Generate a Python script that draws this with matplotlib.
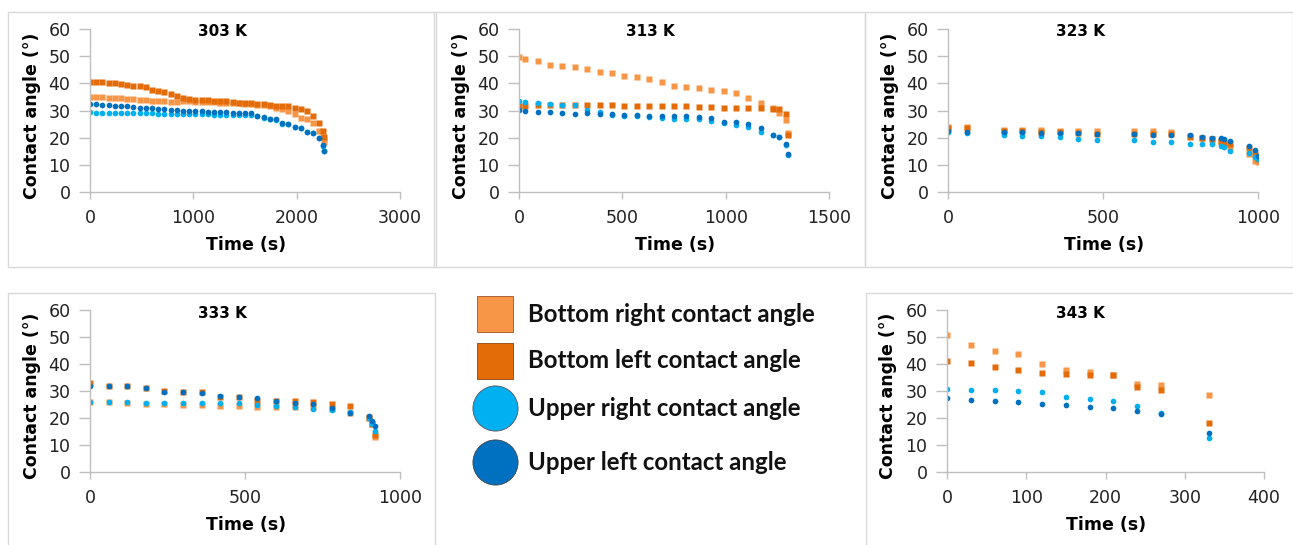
import matplotlib
matplotlib.use("Agg")
import matplotlib.pyplot as plt
from matplotlib.patches import Rectangle

plt.rcParams['font.family'] = ['DejaVu Sans']

# colours (Excel style)
c_br = '#F79646'
c_bl = '#E36C09'
c_ur = '#00B0F0'
c_ul = '#0070C0'

# ---- 303 K ----
t303 = list(range(0, 2161, 60)) + [2220, 2250, 2265]
br303 = [35.1, 34.9, 34.8, 34.7, 34.6, 34.5, 34.4, 34.2, 34.0, 33.8,
         33.6, 33.5, 33.4, 33.3, 33.3, 33.4, 33.4, 33.3, 33.2, 33.1,
         33.0, 32.9, 32.8, 32.7, 32.6, 32.5, 32.3, 32.1, 31.9, 31.5,
         31.0, 30.4, 30.0, 28.6, 27.4, 26.7, 25.3, 22.5, 20.2, 18.5]
bl303 = [40.5, 40.5, 40.4, 40.3, 40.2, 39.9, 39.5, 39.1, 38.9, 38.5,
         37.6, 37.1, 36.7, 36.0, 35.3, 34.5, 34.3, 34.0, 33.9, 33.7,
         33.6, 33.5, 33.4, 33.3, 32.9, 32.8, 32.6, 32.4, 32.3, 32.0,
         31.8, 31.6, 31.5, 30.9, 30.6, 30.0, 28.1, 25.4, 22.6, 20.2]
ur303 = [29.3, 29.2, 29.2, 29.1, 29.1, 29.0, 29.0, 29.0, 28.9, 28.9,
         28.9, 28.8, 28.8, 28.8, 28.7, 28.7, 28.7, 28.6, 28.6, 28.6,
         28.5, 28.5, 28.4, 28.4, 28.3, 28.3, 28.2, 28.0, 27.4, 26.9,
         26.6, 25.2, 25.0, 23.8, 23.4, 22.1, 21.7, 19.8, 17.1, 15.1]
ul303 = [32.5, 32.3, 32.1, 31.9, 31.7, 31.6, 31.5, 31.3, 31.1, 30.9,
         30.8, 30.5, 30.4, 30.2, 30.1, 30.0, 29.9, 29.8, 29.7, 29.6,
         29.6, 29.4, 29.3, 29.2, 29.1, 29.0, 29.0, 28.0, 27.5, 27.0,
         26.8, 25.3, 25.1, 23.9, 23.5, 22.2, 21.8, 19.9, 17.2, 15.2]

# ---- 313 K ----
t313 = [0, 30, 90, 150, 210, 270, 330, 390, 450, 510, 570, 630, 690,
        750, 810, 870, 930, 990, 1050, 1110, 1170, 1230, 1260, 1290, 1300]
br313 = [49.8, 48.8, 48.2, 46.7, 46.5, 45.9, 45.3, 44.3, 43.8, 42.8,
         42.2, 41.7, 40.6, 39.0, 38.5, 38.4, 37.7, 37.2, 36.6, 34.7,
         32.6, 30.8, 29.0, 26.5, 21.6]
bl313 = [31.8, 31.8, 31.9, 31.9, 31.9, 31.9, 31.9, 31.9, 31.9, 31.8,
         31.7, 31.6, 31.5, 31.5, 31.5, 31.4, 31.2, 31.1, 31.0, 31.0,
         30.8, 30.7, 30.6, 28.6, 21.0]
ur313 = [33.5, 33.3, 32.9, 32.5, 32.0, 31.9, 30.2, 29.5, 28.4, 28.0,
         27.8, 27.6, 27.2, 26.9, 26.9, 26.7, 26.2, 25.5, 24.7, 24.0,
         22.2, 21.0, 20.2, 17.3, 13.8]
ul313 = [30.1, 29.9, 29.3, 29.3, 29.2, 28.8, 28.9, 28.8, 28.7, 28.3,
         28.2, 28.1, 28.1, 28.1, 28.1, 27.7, 27.1, 25.7, 25.9, 25.0,
         23.4, 21.1, 20.4, 17.5, 13.9]

# ---- 323 K ----
t323 = [0, 60, 180, 240, 300, 360, 420, 480, 600, 660, 720, 780, 820,
        850, 880, 890, 910, 970, 990, 1000]
br323 = [24.0, 24.0, 22.8, 22.8, 22.7, 22.6, 22.6, 22.5, 22.6, 22.4,
         22.2, 20.6, 20.0, 19.5, 18.5, 17.8, 16.7, 14.0, 11.5, 11.0]
bl323 = [23.4, 23.5, 22.3, 22.3, 22.2, 22.0, 21.6, 21.4, 21.4, 21.2,
         21.2, 20.3, 19.8, 19.6, 18.9, 18.4, 17.5, 16.3, 14.0, 12.0]
ur323 = [22.2, 21.6, 21.0, 20.7, 20.6, 20.4, 19.4, 19.0, 19.0, 18.5,
         18.5, 17.7, 17.7, 17.5, 17.0, 16.7, 15.2, 14.5, 13.0, 12.3]
ul323 = [22.4, 22.2, 22.2, 22.0, 21.9, 21.8, 21.9, 21.3, 21.3, 21.0,
         21.1, 21.0, 20.4, 19.9, 19.9, 19.4, 18.9, 16.9, 15.5, 13.3]

# ---- 333 K ----
t333 = [0, 60, 120, 180, 240, 300, 360, 420, 480, 540, 600, 660, 720,
        780, 840, 900, 910, 920]
br333 = [25.8, 25.8, 25.4, 25.3, 25.1, 25.0, 24.7, 24.4, 24.4, 24.1,
         24.1, 24.0, 23.9, 23.2, 22.0, 20.3, 17.9, 13.1]
bl333 = [32.8, 31.7, 31.7, 31.1, 29.9, 29.6, 29.5, 27.7, 27.7, 26.4,
         26.4, 26.2, 26.1, 25.1, 24.4, 19.9, 17.9, 13.7]
ur333 = [26.0, 25.9, 25.8, 25.7, 25.7, 25.6, 25.6, 25.4, 25.4, 24.9,
         24.6, 24.0, 23.3, 23.0, 22.1, 20.1, 17.9, 15.3]
ul333 = [32.0, 31.8, 31.8, 31.1, 29.5, 29.5, 29.1, 28.3, 27.7, 27.3,
         26.4, 25.6, 25.1, 23.6, 22.0, 20.7, 19.0, 16.9]

# ---- 343 K ----
t343 = [0, 30, 60, 90, 120, 150, 180, 210, 240, 270, 330]
br343 = [50.6, 47.0, 44.9, 43.6, 39.9, 37.8, 37.2, 35.9, 32.6, 32.2, 28.5]
bl343 = [41.1, 40.2, 39.0, 37.8, 36.5, 36.2, 35.8, 35.8, 31.6, 30.4, 18.0]
ur343 = [30.6, 30.4, 30.4, 30.1, 29.7, 27.9, 26.9, 26.4, 24.4, 22.0, 12.7]
ul343 = [27.5, 26.7, 26.3, 26.1, 25.2, 24.8, 24.2, 23.6, 22.6, 21.4, 14.4]

labels = ['Bottom right contact angle', 'Bottom left contact angle',
          'Upper right contact angle', 'Upper left contact angle']

W, H = 1293, 545
fig = plt.figure(figsize=(W / 100, H / 100), dpi=100)


def px_axes(l, t, w, h):
    return fig.add_axes([l / W, (H - t - h) / H, w / W, h / H])


def panel(rect, title, tcen, t, br, bl, ur, ul, xmax, xstep, box):
    # outer chart border
    bx0, by0, bx1, by1 = box
    fig.patches.append(Rectangle((bx0 / W, 1 - by1 / H), (bx1 - bx0) / W,
                                 (by1 - by0) / H, transform=fig.transFigure,
                                 fill=False, ec='#D9D9D9', lw=1.0))
    ax = px_axes(*rect)
    ax.plot(t, br, 's', color=c_br, ms=3.9, mec='none')
    ax.plot(t, bl, 's', color=c_bl, ms=3.9, mec='none')
    ax.plot(t, ur, 'o', color=c_ur, ms=4.1, mec='none')
    ax.plot(t, ul, 'o', color=c_ul, ms=4.1, mec='none')
    ax.set_xlim(0, xmax)
    ax.set_ylim(0, 60)
    ax.set_xticks(range(0, xmax + 1, xstep))
    ax.set_yticks(range(0, 61, 10))
    for s in ['top', 'right']:
        ax.spines[s].set_visible(False)
    for s in ['left', 'bottom']:
        ax.spines[s].set_color('#BFBFBF')
        ax.spines[s].set_linewidth(1.0)
    ax.tick_params(axis='y', length=8, width=1.0, color='#BFBFBF',
                   labelsize=12.5, labelcolor='#222222', pad=6)
    ax.tick_params(axis='x', length=5, width=1.0, color='#BFBFBF',
                   labelsize=12.5, labelcolor='#222222', pad=7)
    ax.set_ylabel('Contact angle (°)', fontsize=12.5, fontweight='bold')
    ax.set_xlabel('Time (s)', fontsize=12.5, fontweight='bold')
    ax.yaxis.set_label_coords(-0.158, 0.47)
    ax.xaxis.set_label_coords(0.503, -0.272)
    ax.patch.set_alpha(0)
    fig.text(tcen[0] / W, 1 - tcen[1] / H, title, fontsize=11,
             fontweight='bold', ha='center', va='center')
    return ax


panel((90, 29, 310, 163), '303 K', (222, 32), t303, br303, bl303, ur303, ul303,
      3000, 1000, (8, 12, 436, 267))
panel((519, 29, 310, 163), '313 K', (650, 32), t313, br313, bl313, ur313, ul313,
      1500, 500, (434, 12, 865, 267))
panel((948, 29, 310, 163), '323 K', (1080, 32), t323, br323, bl323, ur323, ul323,
      1000, 500, (865, 12, 1293, 267))
panel((90, 310, 310, 162), '333 K', (222, 313), t333, br333, bl333, ur333, ul333,
      1000, 500, (8, 293, 435, 546))
panel((947, 310, 317, 162), '343 K', (1080, 313), t343, br343, bl343, ur343, ul343,
      400, 100, (866, 293, 1294, 546))

# legend drawn in pixel coordinates
lg = fig.add_axes([0, 0, 1, 1])
lg.set_xlim(0, W)
lg.set_ylim(H, 0)
lg.axis('off')
lg.patch.set_alpha(0)
leg_y = [314, 361, 408, 462]
leg_style = [('s', c_br, '#A0522D', 26.5), ('s', c_bl, '#8B4513', 26.5),
             ('o', c_ur, '#555555', 32.5), ('o', c_ul, '#444444', 32.5)]
for yy, (m, fc, ec, ms), lab in zip(leg_y, leg_style, labels):
    lg.plot([495], [yy], m, color=fc, mec=ec, mew=0.6, ms=ms)
    lg.text(528, yy, lab, fontsize=17.3, fontweight='bold',
            family=['Lato', 'DejaVu Sans'],
            ha='left', va='center', color='#111111')

fig.savefig('out.png', dpi=100)
